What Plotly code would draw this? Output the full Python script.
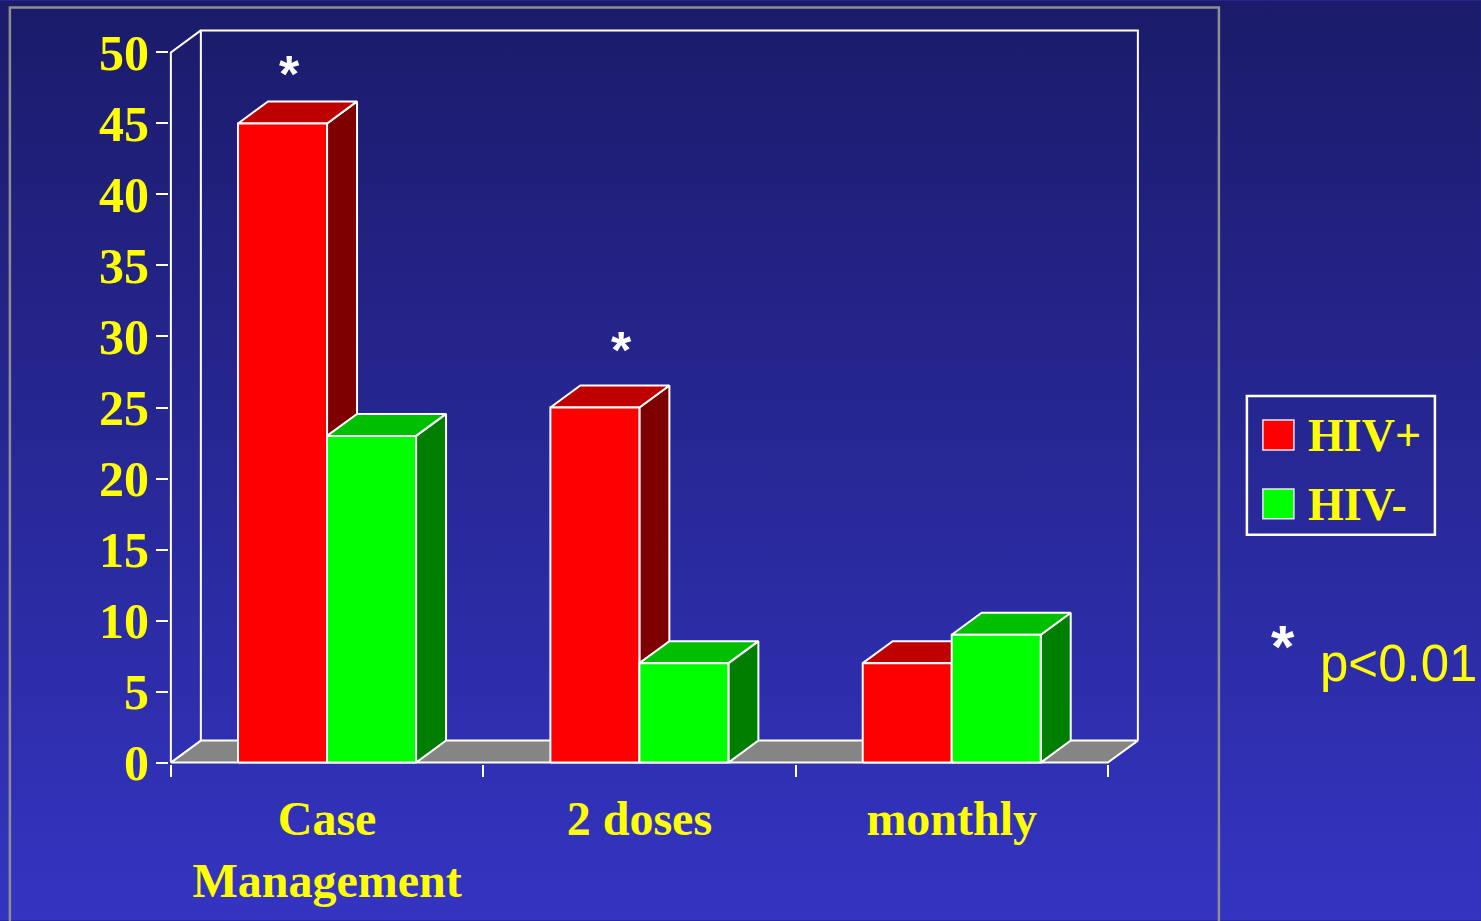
import base64
import plotly.graph_objects as go

# ---------------- data ----------------
categories = ["Case<br>Management", "2 doses", "monthly"]
series_names = ["HIV+", "HIV-"]
hiv_pos = [45, 25, 7]
hiv_neg = [23, 7, 9]
pos_significant = [True, True, False]
y_tick_values = [0, 5, 10, 15, 20, 25, 30, 35, 40, 45, 50]
note_text = "p<0.01"

# ---------------- geometry / style ----------------
W, H = 1481, 921
SX, SY = 312.33, 14.22          # px per data unit
X0PX, Y0PX = 171, 763           # pixel of data origin
DX, DY = 0.096, 1.55            # oblique depth offset (data units)
YMAX = 50
XLO, XHI = -0.006, 3 + DX + 0.01
YLO, YHI = -0.1, YMAX + DY + 0.1
ml = X0PX + XLO * SX
mr = W - (X0PX + XHI * SX)
mt = Y0PX - YHI * SY
mb = H - (Y0PX - YLO * SY)
PW = W - ml - mr
PH = H - mt - mb


def px(xp):
    return (xp - ml) / PW


def py(yp):
    return (H - mb - yp) / PH


GAP, BAR_W = 0.215, 0.285
STAR_SHIFT = [(-8, 4), (12, 12), (0, 0)]   # pixel nudges for significance marks
YELLOW = "#FFFF00"
SERIF = "Liberation Serif"
SANS = "Liberation Sans"
face = {
    "HIV+": ("#FF0000", "#BE0000", "#7E0000"),
    "HIV-": ("#00FF00", "#00BE00", "#007E00"),
}


def poly(xs, ys, color, width=2):
    return go.Scatter(
        x=list(xs) + [xs[0]], y=list(ys) + [ys[0]], mode="lines",
        fill="toself", fillcolor=color,
        line=dict(color="white", width=width),
        hoverinfo="skip", showlegend=False)


def path(xs, ys):
    return go.Scatter(x=xs, y=ys, mode="lines",
                      line=dict(color="white", width=2),
                      hoverinfo="skip", showlegend=False)


fig = go.Figure()

# walls and floor
fig.add_trace(path([DX, DX, 3 + DX, 3 + DX], [DY, YMAX + DY, YMAX + DY, DY]))
fig.add_trace(path([0, 0, DX], [0, YMAX, YMAX + DY]))
fig.add_trace(poly([0, 3, 3 + DX, DX], [0, 0, DY, DY], "#858585"))

# bars
for i in range(len(categories)):
    for j, (name, vals) in enumerate(zip(series_names, [hiv_pos, hiv_neg])):
        v = vals[i]
        x0 = i + GAP + j * BAR_W
        x1 = x0 + BAR_W
        f, t, s = face[name]
        fig.add_trace(poly([x1, x1 + DX, x1 + DX, x1], [0, DY, v + DY, v], s))
        fig.add_trace(poly([x0, x1, x1 + DX, x0 + DX], [v, v, v + DY, v + DY], t))
        fig.add_trace(poly([x0, x1, x1, x0], [0, 0, v, v], f))

annotations = []
for i, (v, sig) in enumerate(zip(hiv_pos, pos_significant)):
    if sig:
        annotations.append(dict(
            x=i + GAP + BAR_W / 2 + DX / 2, y=v + DY, xref="x", yref="y",
            text="*", showarrow=False, yanchor="bottom",
            xshift=STAR_SHIFT[i][0], yshift=-8 + STAR_SHIFT[i][1],
            font=dict(family=SANS, size=52, color="white", weight="bold")))

# legend (manual)
leg_items = [(series_names[0], face["HIV+"][0], 435), (series_names[1], face["HIV-"][0], 504)]
shapes = [
    dict(type="rect", xref="paper", yref="paper", x0=px(1247), x1=px(1435),
         y0=py(535), y1=py(396), line=dict(color="white", width=2.5), fillcolor="rgba(0,0,0,0)"),
    dict(type="rect", xref="paper", yref="paper", x0=px(10), x1=px(1219),
         y0=py(940), y1=py(7), line=dict(color="#8E8E8E", width=2.5), fillcolor="rgba(0,0,0,0)",
         layer="below"),
]
for name, col, yc in leg_items:
    shapes.append(dict(type="rect", xref="paper", yref="paper", x0=px(1263), x1=px(1294),
                       y0=py(yc + 15), y1=py(yc - 15), fillcolor=col,
                       line=dict(color="#E8E8F0", width=1.5)))
    annotations.append(dict(x=px(1306), y=py(yc + 1), xref="paper", yref="paper", text=name,
                            showarrow=False, xanchor="left", yanchor="middle",
                            font=dict(family=SERIF, size=46, color=YELLOW, weight="bold")))

annotations.append(dict(x=px(1283), y=py(647), xref="paper", yref="paper", text="*",
                        showarrow=False, xanchor="center", yanchor="middle",
                        font=dict(family=SANS, size=60, color="white", weight="bold")))
annotations.append(dict(x=px(1318), y=py(664), xref="paper", yref="paper", text=note_text,
                        showarrow=False, xanchor="left", yanchor="middle",
                        font=dict(family=SANS, size=51, color=YELLOW)))

# gradient background as an svg image
svg = ('<svg xmlns="http://www.w3.org/2000/svg" width="100" height="100" preserveAspectRatio="none">'
       '<defs><linearGradient id="g" x1="0" y1="0" x2="0" y2="1">'
       '<stop offset="0" stop-color="#1B1B6A"/><stop offset="1" stop-color="#3434C2"/>'
       '</linearGradient></defs><rect width="100" height="100" fill="url(#g)"/></svg>')
src = "data:image/svg+xml;base64," + base64.b64encode(svg.encode()).decode()

fig.update_layout(
    width=W, height=H, template="none",
    margin=dict(l=ml, r=mr, t=mt, b=mb, pad=0),
    paper_bgcolor="#282896", plot_bgcolor="rgba(0,0,0,0)",
    showlegend=False,
    shapes=shapes, annotations=annotations,
    images=[dict(source=src, xref="paper", yref="paper", x=px(0), y=py(0),
                 sizex=px(W) - px(0), sizey=py(0) - py(H), sizing="stretch",
                 xanchor="left", yanchor="top", layer="below")],
    xaxis=dict(range=[XLO, XHI], showgrid=False, zeroline=False, showline=False,
               tickvals=[0.5, 1.5, 2.5], ticktext=categories, ticks="",
               ticklabelstandoff=22,
               tickfont=dict(family=SERIF, size=48, color=YELLOW, weight="bold"),
               minor=dict(tick0=0, dtick=1, ticks="outside", ticklen=12,
                          tickwidth=2, tickcolor="white", showgrid=False),
               automargin=False, fixedrange=True),
    yaxis=dict(range=[YLO, YHI], showgrid=False, zeroline=False, showline=False,
               tickvals=y_tick_values, ticks="outside", ticklen=12, tickwidth=2,
               tickcolor="white", ticklabelstandoff=-3,
               tickfont=dict(family=SERIF, size=50, color=YELLOW, weight="bold"),
               automargin=False, fixedrange=True),
)

fig.write_html("out.html")
